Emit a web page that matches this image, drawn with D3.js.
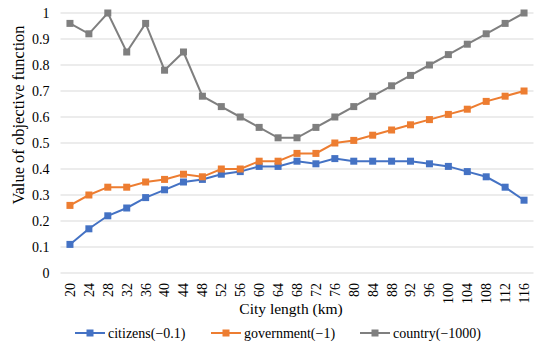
<!DOCTYPE html>
<html>
<head>
<meta charset="utf-8">
<script src="https://cdn.jsdelivr.net/npm/d3@7"></script>
<style>
  body { margin: 0; background: #fff; }
  #chart text { font-family: "Liberation Serif", serif; }
</style>
</head>
<body>
<svg id="chart" width="550" height="347"></svg>
<script>
// city length categories (km)
const lengths = [20, 24, 28, 32, 36, 40, 44, 48, 52, 56, 60, 64, 68, 72, 76, 80, 84, 88, 92, 96, 100, 104, 108, 112, 116];

const citizens = [0.11, 0.17, 0.22, 0.25, 0.29, 0.32, 0.35, 0.36, 0.38, 0.39, 0.41, 0.41, 0.43, 0.42, 0.44, 0.43, 0.43, 0.43, 0.43, 0.42, 0.41, 0.39, 0.37, 0.33, 0.28];
const government = [0.26, 0.30, 0.33, 0.33, 0.35, 0.36, 0.38, 0.37, 0.40, 0.40, 0.43, 0.43, 0.46, 0.46, 0.50, 0.51, 0.53, 0.55, 0.57, 0.59, 0.61, 0.63, 0.66, 0.68, 0.70];
const country = [0.96, 0.92, 1.00, 0.85, 0.96, 0.78, 0.85, 0.68, 0.64, 0.60, 0.56, 0.52, 0.52, 0.56, 0.60, 0.64, 0.68, 0.72, 0.76, 0.80, 0.84, 0.88, 0.92, 0.96, 1.00];

const yTicks = [0, 0.1, 0.2, 0.3, 0.4, 0.5, 0.6, 0.7, 0.8, 0.9, 1];

const seriesNames = ["citizens(\u22120.1)", "government(\u22121)", "country(\u22121000)"];
const seriesColors = ["#4472C4", "#ED7D31", "#7F7F7F"];
const series = [citizens, government, country];

const svg = d3.select("#chart");
const plotL = 60.5, plotR = 533.5, plotT = 13, plotB = 273;

const x = d3.scaleBand().domain(lengths).range([plotL, plotR]);
const y = d3.scaleLinear().domain([0, 1]).range([plotB, plotT]);

// gridlines
svg.append("g")
  .selectAll("line")
  .data(yTicks)
  .enter()
  .append("line")
  .attr("x1", plotL).attr("x2", plotR)
  .attr("y1", d => y(d)).attr("y2", d => y(d))
  .attr("stroke", "#d9d9d9")
  .attr("stroke-width", 1);

// y axis labels
const yAxis = svg.append("g")
  .attr("transform", "translate(" + plotL + ",0)")
  .call(d3.axisLeft(y).tickValues(yTicks).tickSize(0).tickPadding(11).tickFormat(d3.format("~g")));
yAxis.select(".domain").remove();
yAxis.attr("font-family", null).attr("font-size", 14);
yAxis.selectAll("text").attr("fill", "#000");

// x axis labels, rotated
const xAxis = svg.append("g")
  .attr("transform", "translate(0," + plotB + ")")
  .call(d3.axisBottom(x).tickSize(0));
xAxis.select(".domain").remove();
xAxis.attr("font-family", null).attr("font-size", 14);
xAxis.selectAll("text")
  .attr("fill", "#000")
  .attr("transform", "rotate(-90)")
  .attr("text-anchor", "end")
  .attr("x", -10)
  .attr("y", 0)
  .attr("dy", "0.35em");

// axis titles
svg.append("text")
  .attr("x", 291)
  .attr("y", 314)
  .attr("text-anchor", "middle")
  .attr("font-size", 15.5)
  .text("City length (km)");

svg.append("text")
  .attr("transform", "translate(24,115) rotate(-90)")
  .attr("text-anchor", "middle")
  .attr("font-size", 16.5)
  .text("Value of objective function");

// lines and markers
const line = d3.line()
  .x((d, i) => x(lengths[i]) + x.bandwidth() / 2)
  .y(d => y(d));

series.forEach((s, k) => {
  svg.append("path")
    .datum(s)
    .attr("d", line)
    .attr("fill", "none")
    .attr("stroke", seriesColors[k])
    .attr("stroke-width", 2);

  svg.append("g")
    .selectAll("rect")
    .data(s)
    .enter()
    .append("rect")
    .attr("x", (d, i) => x(lengths[i]) + x.bandwidth() / 2 - 3.5)
    .attr("y", d => y(d) - 3.5)
    .attr("width", 7)
    .attr("height", 7)
    .attr("fill", seriesColors[k]);
});

// legend
const legendX = [75, 211, 360];
const legend = svg.append("g");
seriesNames.forEach((name, k) => {
  const g = legend.append("g").attr("transform", "translate(" + legendX[k] + ",333)");
  g.append("line").attr("x1", 0).attr("x2", 30).attr("y1", 0).attr("y2", 0)
    .attr("stroke", seriesColors[k]).attr("stroke-width", 2);
  g.append("rect").attr("x", 11.5).attr("y", -3.5).attr("width", 7).attr("height", 7)
    .attr("fill", seriesColors[k]);
  g.append("text").attr("x", 33).attr("y", 0).attr("dy", "0.35em")
    .attr("font-size", 14).text(name);
});
</script>
</body>
</html>
